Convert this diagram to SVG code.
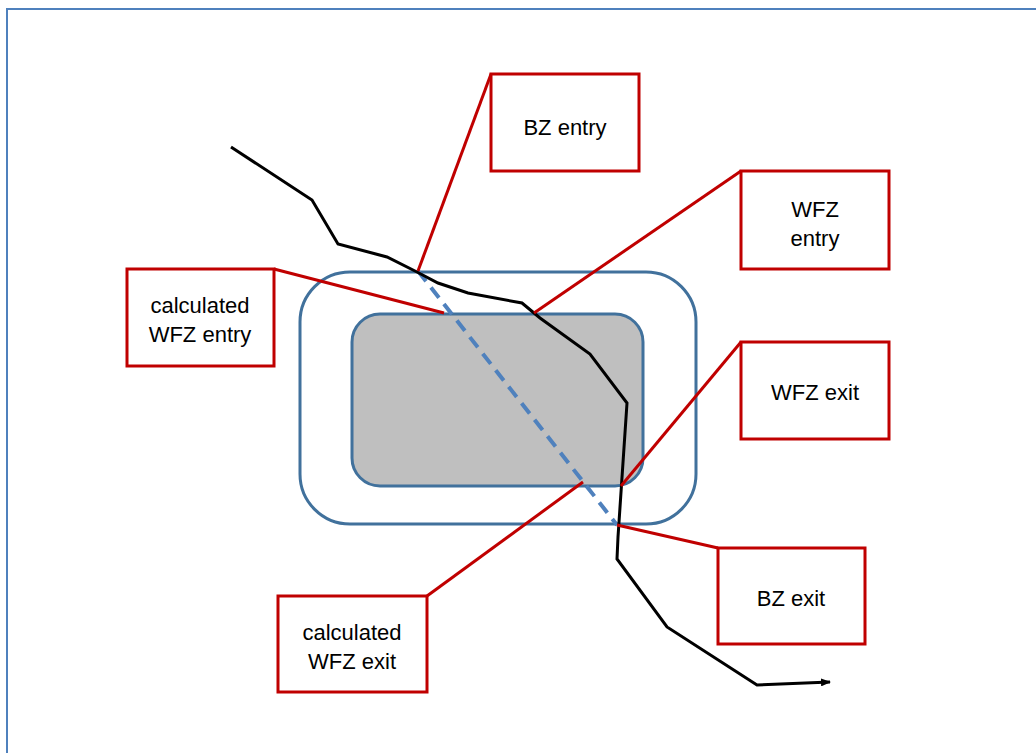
<svg xmlns="http://www.w3.org/2000/svg" width="1036" height="753" viewBox="0 0 1036 753">
<defs>
<style>
.box{fill:#fff;stroke:#C00000;stroke-width:3}
.lead{fill:none;stroke:#C00000;stroke-width:3}
.lbl{font-family:"Liberation Sans",Arial,sans-serif;font-size:22px;fill:#000;text-anchor:middle}
.zone{stroke:#41719C;stroke-width:3}
</style>
<marker id="arr" markerWidth="10" markerHeight="8" refX="9" refY="4" orient="auto" markerUnits="userSpaceOnUse"><path d="M0,0 L10,4 L0,8 z" fill="#000"/></marker>
</defs>
<rect width="1036" height="753" fill="#fff"/>
<path d="M7,753 V9 H1036" fill="none" stroke="#4F81BD" stroke-width="2"/>
<g id="zones">
<rect id="bz" class="zone" x="300" y="272" width="396" height="252" rx="50" fill="#fff"/>
<rect id="wfz" class="zone" x="352" y="314" width="291" height="172" rx="28" fill="#BFBFBF"/>
</g>
<g id="connectors">
<path d="M418,271 L617,525" fill="none" stroke="#4F81BD" stroke-width="4" stroke-dasharray="13,8"/>
<path d="M231,147 L312,200 L338,244 L387,257 L417,272 L438,283 L468,293 L522,303 L540,318 L590,354 L627,403 L618,537 L617,559 L667,627 L757,685 L830,682" fill="none" stroke="#000" stroke-width="3" marker-end="url(#arr)"/>
<path class="lead" d="M418,271 L491,74"/>
<path class="lead" d="M274,269 L444,313"/>
<path class="lead" d="M534,313 L741,171"/>
<path class="lead" d="M621,486 L741,342"/>
<path class="lead" d="M427,596 L583,482"/>
<path class="lead" d="M617,525 L718,548"/>
</g>
<g id="bz-entry"><rect class="box" x="491" y="74" width="148" height="97"/><text class="lbl" x="565" y="135">BZ entry</text></g>
<g id="wfz-entry"><rect class="box" x="741" y="171" width="148" height="98"/><text class="lbl" x="815" y="217">WFZ</text><text class="lbl" x="815" y="246">entry</text></g>
<g id="calc-wfz-entry"><rect class="box" x="127" y="269" width="147" height="97"/><text class="lbl" x="200" y="313">calculated</text><text class="lbl" x="200" y="342">WFZ entry</text></g>
<g id="wfz-exit"><rect class="box" x="741" y="342" width="148" height="97"/><text class="lbl" x="815" y="400">WFZ exit</text></g>
<g id="bz-exit"><rect class="box" x="718" y="548" width="147" height="96"/><text class="lbl" x="791" y="606">BZ exit</text></g>
<g id="calc-wfz-exit"><rect class="box" x="278" y="596" width="149" height="96"/><text class="lbl" x="352" y="640">calculated</text><text class="lbl" x="352" y="669">WFZ exit</text></g>
</svg>
